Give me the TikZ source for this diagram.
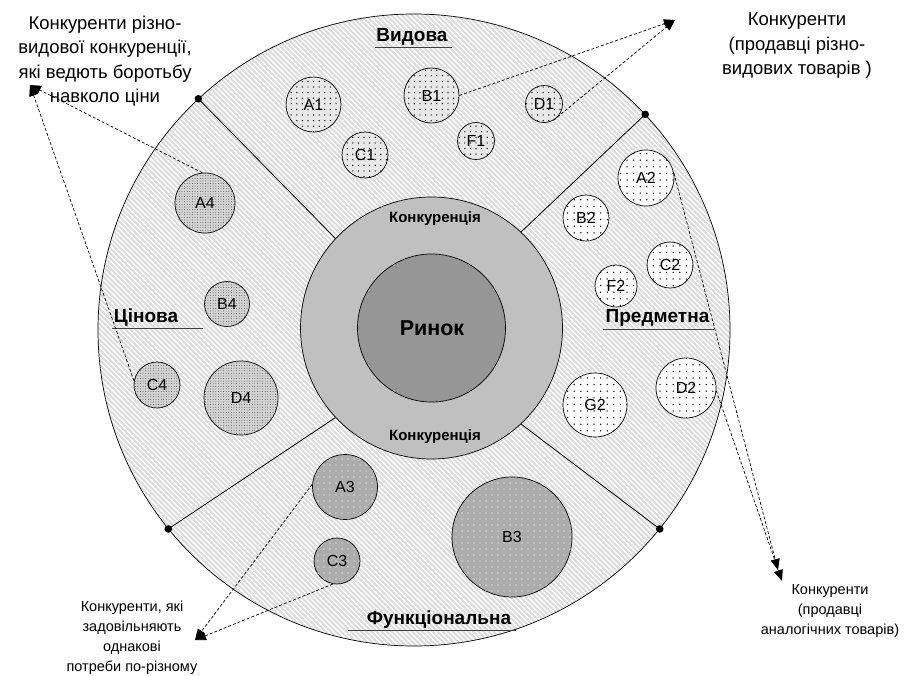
\documentclass[tikz,border=0pt]{standalone}
\usepackage{fontspec}
\setmainfont{Liberation Sans}
\usetikzlibrary{arrows.meta,patterns.meta}
\definecolor{ringc}{HTML}{C0C0C0}
\definecolor{innerc}{HTML}{969696}
\definecolor{bgc}{HTML}{DCDCDC}
\definecolor{topc}{HTML}{E8E8E8}
\definecolor{leftc}{HTML}{D4D4D4}
\definecolor{botc}{HTML}{ACACAC}
\definecolor{ulc}{HTML}{404040}
\begin{document}
\begin{tikzpicture}[x=1pt,y=-1pt,
  outline/.style={draw=black,line width=0.7pt},
  circ/.style={circle,outline,inner sep=0pt,minimum size=#1,font=\fontsize{16}{16}\selectfont},
  vidova/.style={fill=topc,postaction={pattern={Dots[distance=5.6pt,radius=0.7pt]},pattern color=black}},
  predm/.style={fill=white,postaction={pattern={Dots[distance=6.6pt,radius=0.75pt]},pattern color=black}},
  cinova/.style={fill=leftc,postaction={pattern={Dots[distance=2.6pt,radius=0.45pt]},pattern color=black!75}},
  funk/.style={fill=botc,postaction={pattern={Dots[distance=6pt,radius=0.7pt]},pattern color=white}},
  sector/.style={font=\fontsize{19}{19}\selectfont\bfseries},
  ring/.style={font=\fontsize{15}{15}\selectfont\bfseries},
  note/.style={align=center,font=\fontsize{18.5}{24.5}\selectfont},
  smallnote/.style={align=center,font=\fontsize{14.5}{20}\selectfont},
  uline/.style={draw=ulc,line width=1pt},
  sep/.style={draw=black,line width=0.8pt},
  arr/.style={draw=black,line width=0.7pt,dash pattern=on 3pt off 2pt,-{Triangle[length=11pt,width=9pt]}},
  bigdot/.style={fill=black}
]
\useasboundingbox (0,0) rectangle (916,675);

% outer circle
\node (outer) [circle,inner sep=0pt,minimum size=632pt,fill=bgc] at (414,330) {};
\fill[pattern={Lines[angle=-45,distance=3.6pt,line width=1.3pt]},pattern color=white] (414,330) circle (316pt);
\node [circle,inner sep=0pt,minimum size=632pt,outline] at (414,330) {};

% ring and inner
\node (ring) [circle,inner sep=0pt,minimum size=262pt,fill=ringc,outline] at (431.5,328) {};
\node (inner) [circle,inner sep=0pt,minimum size=148pt,fill=innerc,outline] at (431.5,328) {};

% separator lines
\draw[sep] (outer.133.1) -- (ring.137);
\draw[sep] (outer.43.6) -- (ring.47.3);
\draw[sep] (outer.219.4) -- (ring.223.6);
\draw[sep] (outer.321.5) -- (ring.313.9);

% centre labels
\node (rynok) [font=\fontsize{21.5}{21.5}\selectfont\bfseries] at (432,328) {Ринок};
\node (konk1) [ring] at (435,219) {Конкуренція};
\node (konk2) [ring] at (435,437) {Конкуренція};

% Vidova sector
\node (A1) [circ=55pt,vidova] at (313.5,104.5) {A1};
\node (B1) [circ=55pt,vidova] at (431.5,95.5) {B1};
\node (C1) [circ=46pt,vidova] at (365,155) {C1};
\node (D1) [circ=37pt,vidova] at (544,104) {D1};
\node (F1) [circ=37pt,vidova] at (476,141) {F1};
\node (lvid) [sector] at (412,37) {Видова};
\draw[uline] (375,47) -- (452,47);

% Predmetna sector
\node (A2) [circ=56pt,predm] at (646,178) {A2};
\node (B2) [circ=46pt,predm] at (586,218) {B2};
\node (C2) [circ=46pt,predm] at (670,265) {C2};
\node (F2) [circ=42pt,predm] at (616,286) {F2};
\node (G2) [circ=64pt,predm] at (595,405) {G2};
\node (D2) [circ=60pt,predm] at (686,388) {D2};
\node (lpred) [sector] at (657.5,318) {Предметна};
\draw[uline] (603,329) -- (714,329);

% Cinova sector
\node (A4) [circ=60pt,cinova] at (205,203) {A4};
\node (B4) [circ=45pt,cinova] at (227,304) {B4};
\node (C4) [circ=46pt,cinova] at (157,385) {C4};
\node (D4) [circ=74pt,cinova] at (241,398) {D4};
\node (lcin) [sector] at (146,318) {Цінова};
\draw[uline] (112,328) -- (203,328);

% Funkcionalna sector
\node (A3) [circ=65pt,funk] at (345,487) {A3};
\node (C3) [circ=46pt,funk] at (337,561) {C3};
\node (B3) [circ=120pt,funk] at (512,537) {B3};
\node (lfun) [sector] at (439,620) {Функціональна};
\draw[uline] (348,630) -- (516,630);

% outer notes
\node (ntl) [note] at (105,61) {Конкуренти різно-\\видової конкуренції,\\які ведють боротьбу\\навколо ціни};
\node (ntr) [note] at (797,46) {Конкуренти\\(продавці різно-\\видових товарів )};
\node (nbl) [smallnote] at (132,638) {Конкуренти, які\\задовільняють\\однакові\\потреби по-різному};
\node (nbr) [smallnote] at (830,611) {Конкуренти\\(продавці\\аналогічних товарів)};

% arrow tips
\coordinate (tTR) at (675,20);
\coordinate (tTL) at (30,85);
\coordinate (tBL) at (195,640);
\coordinate (tBR1) at (778,570);
\coordinate (tBR2) at (782,581);

\draw[arr] (B1.east) -- (tTR);
\draw[arr] (D1.-60) -- (tTR);
\draw[arr] (A4.95) -- (tTL);
\draw[arr] (C4.170) -- (tTL);
\draw[arr] (A3.175) -- (tBL);
\draw[arr] (C3.-100) -- (tBL);
\draw[arr] (A2.10) -- (tBR1);
\draw[arr] (D2.-5) -- (tBR2);

% dots on outer circle
\fill[bigdot] (outer.133.1) circle (3.8pt);
\fill[bigdot] (outer.43.6) circle (3.8pt);
\fill[bigdot] (outer.219.4) circle (3.8pt);
\fill[bigdot] (outer.321.5) circle (3.8pt);
\end{tikzpicture}
\end{document}
